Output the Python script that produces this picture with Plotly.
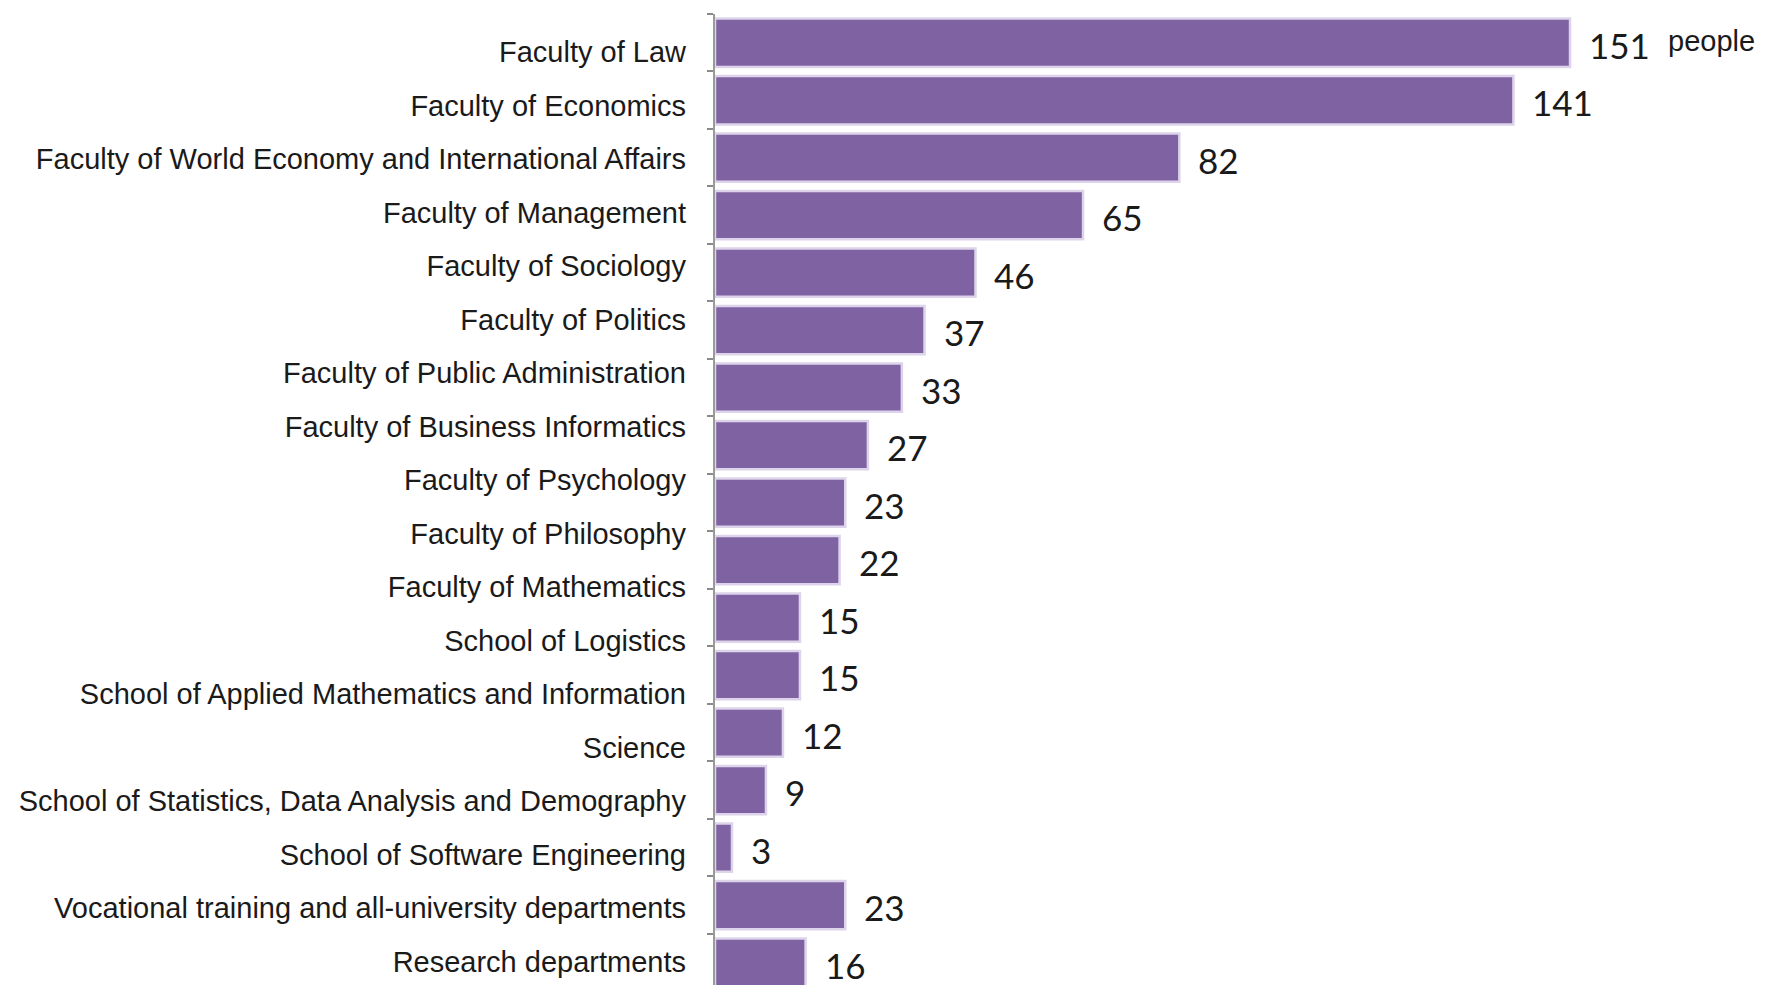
import plotly.graph_objects as go

categories = [
    "Faculty of Law",
    "Faculty of Economics",
    "Faculty of World Economy and International Affairs",
    "Faculty of Management",
    "Faculty of Sociology",
    "Faculty of Politics",
    "Faculty of Public Administration",
    "Faculty of Business Informatics",
    "Faculty of Psychology",
    "Faculty of Philosophy",
    "Faculty of Mathematics",
    "School of Logistics",
    "School of Applied Mathematics and Information",
    "Science",
    "School of Statistics, Data Analysis and Demography",
    "School of Software Engineering",
    "Vocational training and all-university departments",
    "Research departments",
]
values = [151, 141, 82, 65, 46, 37, 33, 27, 23, 22, 15, 15, 12, 9, 3, 23, 16]
bar_index = list(range(len(values)))
unit_label = "people"

LABEL_FONT = "Arial"

fig = go.Figure()
fig.add_trace(go.Bar(
    y=bar_index, x=values, orientation="h",
    marker=dict(color="#7F62A2", line=dict(color="#DDD3EA", width=2.5)),
    width=0.84, showlegend=False, hoverinfo="skip",
))
# invisible trace carrying the category labels on the secondary axis
fig.add_trace(go.Scatter(
    y=categories, x=[0] * len(categories), yaxis="y2", mode="markers",
    marker=dict(opacity=0), showlegend=False, hoverinfo="skip",
))

for i, v in zip(bar_index, values):
    fig.add_annotation(x=v, y=i, text=str(v), showarrow=False, xanchor="left",
                       xshift=17, yshift=-2,
                       font=dict(family="Lato, Open Sans, sans-serif", size=35, color="#1a1a1a"))

fig.add_annotation(x=values[0], y=0, text=unit_label, showarrow=False,
                   xanchor="left", xshift=96, yshift=2,
                   font=dict(family=LABEL_FONT, size=29, color="#1a1a1a"))

n = len(values)
fig.update_layout(
    width=1759, height=977,
    margin=dict(l=707, r=5, t=6, b=0, autoexpand=False),
    plot_bgcolor="white", paper_bgcolor="white",
    xaxis=dict(range=[0, 184.9], visible=False, automargin=False),
    yaxis=dict(
        range=[n - 0.5 - 0.11, -0.5], automargin=False,
        tickvals=[k - 0.5 for k in range(n + 1)], ticktext=[""] * (n + 1),
        ticks="outside", ticklen=6, tickcolor="#8a8a8a", tickwidth=1.5,
        showline=True, linecolor="#9a9a9a", linewidth=1.5, showgrid=False, zeroline=False,
    ),
    yaxis2=dict(
        type="category", overlaying="y", side="left", anchor="x", automargin=False,
        range=[17.44, -0.71], showgrid=False, showline=False, ticks="",
        tickfont=dict(family=LABEL_FONT, size=29, color="#1a1a1a"),
        ticklabelstandoff=28,
    ),
)
fig.write_html("out.html")
